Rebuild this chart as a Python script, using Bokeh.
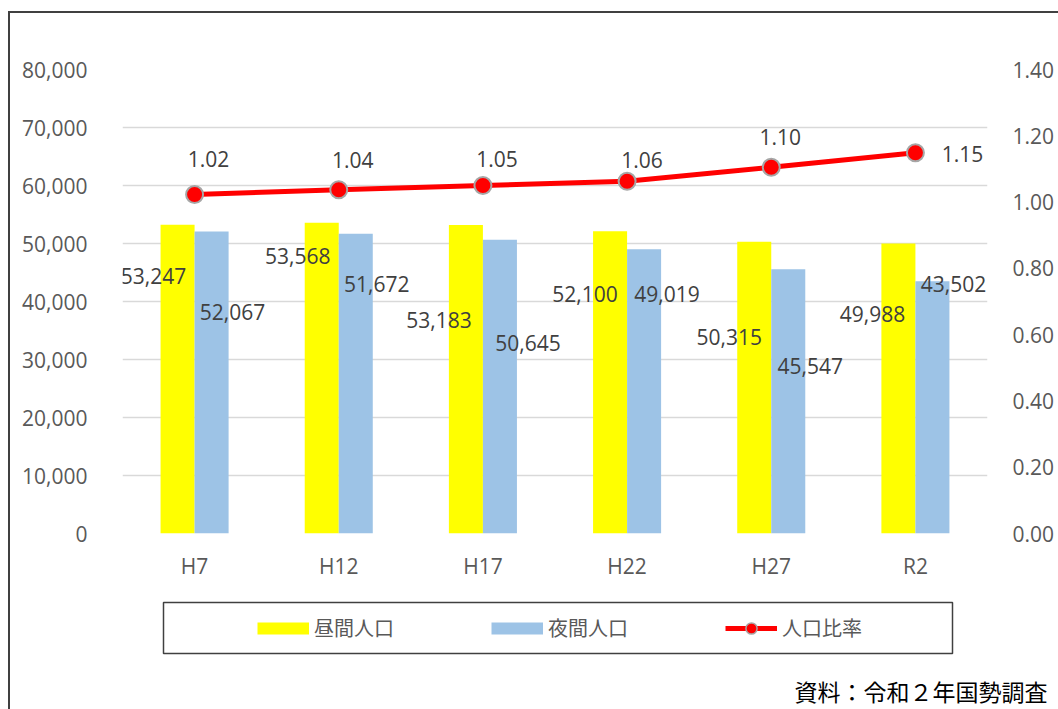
from bokeh.plotting import figure
from bokeh.layouts import column
from bokeh.models import (ColumnDataSource, FactorRange, Range1d, LinearAxis, FixedTicker,
                          NumeralTickFormatter, Legend, LegendItem, BoxAnnotation, Label)
from bokeh.transform import dodge
from bokeh.core.properties import value
from bokeh.embed import file_html
from bokeh.resources import INLINE

# ---- data ----
cats = ["H7", "H12", "H17", "H22", "H27", "R2"]
daytime = [53247, 53568, 53183, 52100, 50315, 49988]     # 昼間人口
nighttime = [52067, 51672, 50645, 49019, 45547, 43502]   # 夜間人口
ratio = [1.023, 1.037, 1.050, 1.063, 1.105, 1.149]       # 人口比率
left_ticks = [0, 10000, 20000, 30000, 40000, 50000, 60000, 70000, 80000]
right_ticks = [0.0, 0.2, 0.4, 0.6, 0.8, 1.0, 1.2, 1.4]
legend_labels = ["昼間人口", "夜間人口", "人口比率"]
source_note = "資料：令和２年国勢調査"

# label offsets (screen px, relative to category centre / value)
day_dx = [-41, -41, -44, -42, -42, -43]
day_dy = [51, 33, 95, 63, 95, 70]
night_dx = [38, 38, 45, 40, 39, 38]
night_dy = [80, 50, 103, 45, 97, 3]
ratio_dx = [14, 14, 14, 15, 9, 47]
ratio_dy = [-35, -30, -27, -21, -30, 1]

src = ColumnDataSource(dict(
    cat=cats, day=daytime, night=nighttime, ratio=ratio,
    day_lbl=[f"{v:,}" for v in daytime],
    night_lbl=[f"{v:,}" for v in nighttime],
    ratio_lbl=[f"{v:.2f}" for v in ratio],
    day_dx=day_dx, day_dy=day_dy, night_dx=night_dx, night_dy=night_dy,
    ratio_dx=ratio_dx, ratio_dy=ratio_dy,
))

NUM_FONT = "Open Sans"
CJK_FONT = "Noto Sans CJK JP"
AX_COLOR = "#595959"
LBL_COLOR = "#404040"
YELLOW = "#FFFF00"
BLUE = "#9DC3E6"
RED = "#FF0000"
MARK_EDGE = "#A6A6A6"

W = 1048

# ================= main chart =================
p = figure(x_range=FactorRange(*cats), y_range=Range1d(0, 80000),
           width=W, height=577, output_backend="svg", toolbar_location=None,
           min_border_left=112, min_border_right=71, min_border_top=56, min_border_bottom=57)
p.frame_align = False
p.outline_line_color = None
p.background_fill_color = "white"
p.border_fill_color = "white"
p.extra_y_ranges = {"r": Range1d(0, 1.4)}

yax = p.yaxis[0]
yax.ticker = FixedTicker(ticks=left_ticks)
yax.formatter = NumeralTickFormatter(format="0,0")
yax.axis_line_color = None
yax.major_tick_line_color = None
yax.minor_tick_line_color = None
yax.major_label_standoff = 29
yax.major_label_text_font = NUM_FONT
yax.major_label_text_font_size = "21px"
yax.major_label_text_color = AX_COLOR

rax = LinearAxis(y_range_name="r", ticker=FixedTicker(ticks=right_ticks),
                 formatter=NumeralTickFormatter(format="0.00"))
rax.axis_line_color = None
rax.major_tick_line_color = None
rax.minor_tick_line_color = None
rax.major_label_standoff = 19
rax.major_label_text_font = NUM_FONT
rax.major_label_text_font_size = "21px"
rax.major_label_text_color = AX_COLOR
p.add_layout(rax, "right")

xax = p.xaxis[0]
xax.axis_line_color = None
xax.major_tick_line_color = None
xax.minor_tick_line_color = None
xax.major_label_standoff = 12
xax.major_label_text_font = NUM_FONT
xax.major_label_text_font_size = "21px"
xax.major_label_text_color = AX_COLOR

p.xgrid.grid_line_color = None
p.ygrid.grid_line_color = "#D9D9D9"
p.ygrid.grid_line_width = 1.5

bw = 0.236
p.vbar(x=dodge("cat", -bw / 2, range=p.x_range), top="day", width=bw, source=src,
       fill_color=YELLOW, line_color=None)
p.vbar(x=dodge("cat", bw / 2, range=p.x_range), top="night", width=bw, source=src,
       fill_color=BLUE, line_color=None)

p.line(x="cat", y="ratio", y_range_name="r", source=src, line_color=RED, line_width=5)
p.scatter(x="cat", y="ratio", y_range_name="r", source=src, size=17,
          fill_color=RED, line_color=MARK_EDGE, line_width=2)

for ycol, lcol, dx, dy, rng in [("day", "day_lbl", "day_dx", "day_dy", "default"),
                                ("night", "night_lbl", "night_dx", "night_dy", "default"),
                                ("ratio", "ratio_lbl", "ratio_dx", "ratio_dy", "r")]:
    p.text(x="cat", y=ycol, text=lcol, source=src, x_offset=dx, y_offset=dy, y_range_name=rng,
           text_align="center", text_baseline="middle", text_font=value(NUM_FONT),
           text_font_size="21px", text_color=LBL_COLOR)

# ================= legend / note strip =================
q = figure(width=W, height=119, output_backend="svg", toolbar_location=None,
           x_axis_type=None, y_axis_type=None, x_range=Range1d(0, 1), y_range=Range1d(0, 1),
           min_border_left=0, min_border_right=0, min_border_top=0, min_border_bottom=0)
q.frame_align = False
q.outline_line_color = None
q.background_fill_color = "white"
q.border_fill_color = "white"
q.grid.visible = False

# legend-only renderers (their points lie outside the visible range)
lb_day = q.line(x=[-6, -5], y=[-6, -5], line_color=YELLOW, line_width=12, line_cap="butt")
lb_night = q.line(x=[-6, -5], y=[-6, -5], line_color=BLUE, line_width=12, line_cap="butt")
lb_line = q.line(x=[-6, -5], y=[-6, -5], line_color=RED, line_width=5)
lb_mark = q.scatter(x=[-5], y=[-5], size=11, fill_color=RED, line_color=MARK_EDGE, line_width=1.5)

legend = Legend(items=[LegendItem(label=legend_labels[0], renderers=[lb_day]),
                       LegendItem(label=legend_labels[1], renderers=[lb_night]),
                       LegendItem(label=legend_labels[2], renderers=[lb_line, lb_mark])],
                location=(247, 67), orientation="horizontal", padding=0, margin=0,
                spacing=97, glyph_width=52, glyph_height=28, label_standoff=5,
                label_height=28,
                border_line_color=None, background_fill_alpha=0,
                label_text_font=CJK_FONT, label_text_font_size="20px",
                label_text_color=AX_COLOR)
q.add_layout(legend)

q.add_layout(BoxAnnotation(left=153, right=942, top=107, bottom=56,
                           left_units="screen", right_units="screen",
                           top_units="screen", bottom_units="screen",
                           fill_alpha=0, line_color="#404040", line_width=1.5, line_alpha=1))

q.add_layout(Label(x=1037, y=19, x_units="screen", y_units="screen", text=source_note,
                   text_align="right", text_baseline="middle", text_font=CJK_FONT,
                   text_font_size="23px", text_color="black"))

layout = column(p, q, spacing=0,
                styles={"border-left": "2px solid #404040", "border-top": "2px solid #404040",
                        "margin-left": "8px", "margin-top": "11px"})

open("out.html", "w").write(file_html(layout, INLINE))
